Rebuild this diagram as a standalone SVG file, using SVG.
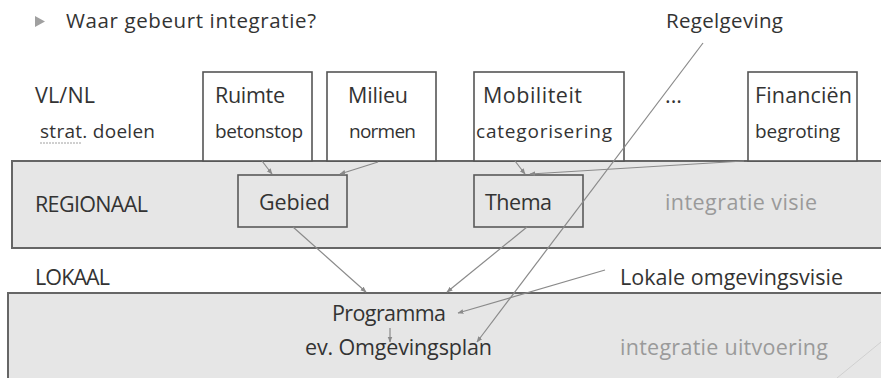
<svg xmlns="http://www.w3.org/2000/svg" width="881" height="378" viewBox="0 0 881 378">
<style>
text{font-family:"Open Sans","DejaVu Sans",sans-serif;fill:#333}
.b{font-size:21.5px}
.s{font-size:19px}
.g{fill:#9a9a9a;font-size:21.5px}
.box{fill:#fff;stroke:#555;stroke-width:1.6}
.inner{fill:none;stroke:#5a5a5a;stroke-width:1.6}
.band{fill:#e6e6e6;stroke:#666;stroke-width:2}
.c{fill:none;stroke:#8a8a8a;stroke-width:1.2;marker-end:url(#ah)}
</style>
<defs>
<marker id="ah" viewBox="0 0 10 10" refX="9" refY="5" markerWidth="6" markerHeight="6" orient="auto" markerUnits="userSpaceOnUse">
<path d="M0,1 L10,5 L0,9 z" fill="#8a8a8a"/>
</marker>
</defs>
<rect width="881" height="378" fill="#fff"/>

<g id="title">
<polygon points="35,16 45,21.5 35,27" fill="#a0a0a0"/>
<text x="66" y="28" style="font-size:20.5px" textLength="250">Waar gebeurt integratie?</text>
</g>
<g id="regelgeving"><text x="666" y="28" style="font-size:20.5px" textLength="117">Regelgeving</text></g>

<g id="band-regionaal"><rect class="band" x="12" y="161" width="880" height="87"/></g>
<g id="band-lokaal"><rect class="band" x="8" y="293" width="884" height="90"/></g>

<g id="vlnl">
<text class="b" x="35" y="103" textLength="60">VL/NL</text>
<text class="s" x="40" y="138" textLength="115">strat. doelen</text>
<line x1="40" y1="143" x2="81" y2="143" stroke="#a0a0a0" stroke-width="1" stroke-dasharray="2,1"/>
</g>
<g id="ruimte">
<rect class="box" x="203" y="72" width="109" height="89"/>
<text class="b" x="215" y="103" textLength="70">Ruimte</text>
<text class="s" x="215" y="138" textLength="88">betonstop</text>
</g>
<g id="milieu">
<rect class="box" x="327" y="72" width="109" height="89"/>
<text class="b" x="348" y="103" textLength="60">Milieu</text>
<text class="s" x="349" y="138" textLength="67">normen</text>
</g>
<g id="mobiliteit">
<rect class="box" x="474" y="72" width="150" height="89"/>
<text class="b" x="483" y="103" textLength="99">Mobiliteit</text>
<text class="s" x="476" y="138" textLength="136">categorisering</text>
</g>
<g id="etc"><text class="b" x="665" y="103">...</text></g>
<g id="financien">
<rect class="box" x="748" y="72" width="109" height="89"/>
<text class="b" x="755" y="103" textLength="97">Financiën</text>
<text class="s" x="755" y="138" textLength="85">begroting</text>
</g>

<g id="regionaal"><text class="b" x="35" y="212" textLength="113">REGIONAAL</text></g>
<g id="gebied">
<rect class="inner" x="238" y="175" width="109" height="52"/>
<text class="b" x="259" y="210" textLength="71">Gebied</text>
</g>
<g id="thema">
<rect class="inner" x="474" y="175" width="109" height="52"/>
<text class="b" x="485" y="210" textLength="67">Thema</text>
</g>
<g id="integratie-visie"><text class="g" x="665" y="210" textLength="152">integratie visie</text></g>

<g id="lokaal"><text class="b" x="35" y="285" textLength="75">LOKAAL</text></g>
<g id="lokale-omgevingsvisie"><text class="b" x="620" y="285" textLength="223">Lokale omgevingsvisie</text></g>
<g id="programma"><text class="b" x="332" y="321" textLength="114">Programma</text></g>
<g id="omgevingsplan"><text class="b" x="305" y="355" textLength="187">ev. Omgevingsplan</text></g>
<g id="integratie-uitvoering"><text class="g" x="620" y="355" textLength="208">integratie uitvoering</text></g>

<g id="connectors">
<line class="c" x1="262" y1="161" x2="272" y2="174"/>
<line class="c" x1="378" y1="162" x2="340" y2="174"/>
<line class="c" x1="515" y1="161" x2="525" y2="174"/>
<line class="c" x1="744" y1="161" x2="530" y2="174"/>
<line class="c" x1="703" y1="43" x2="477" y2="342"/>
<line class="c" x1="293" y1="227" x2="366" y2="292"/>
<line class="c" x1="527" y1="227" x2="447" y2="292"/>
<line class="c" x1="605" y1="270" x2="458" y2="313"/>
<line class="c" x1="390" y1="328" x2="390" y2="342"/>
<line x1="837" y1="378" x2="881" y2="342" stroke="#d0d0d0" stroke-width="1"/>
</g>
</svg>
